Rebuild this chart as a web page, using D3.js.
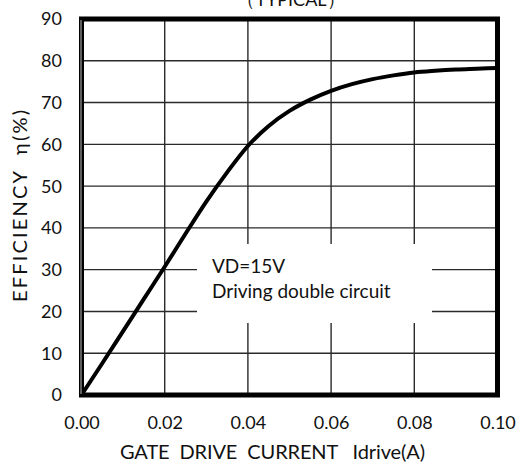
<!DOCTYPE html>
<html><head><meta charset="utf-8">
<script src="https://cdn.jsdelivr.net/npm/d3@7"></script>
<style>body{margin:0;background:#fff}svg{display:block}text{font-family:Lato,"Open Sans",sans-serif;fill:#111}</style>
</head><body><svg id="c" width="516" height="464"></svg>
<script>
const currentA = [0, 0.005, 0.01, 0.015, 0.02, 0.025, 0.03, 0.035, 0.04, 0.045, 0.05, 0.055, 0.06, 0.065, 0.07, 0.075, 0.08, 0.085, 0.09, 0.095, 0.10];
const efficiency = [0, 7.6, 15.3, 23.0, 30.7, 38.6, 46.3, 53.3, 59.6, 64.4, 68.0, 70.7, 72.8, 74.4, 75.6, 76.5, 77.2, 77.6, 77.9, 78.1, 78.3];
const xTicks = [0, 0.02, 0.04, 0.06, 0.08, 0.10];
const yTicks = [0, 10, 20, 30, 40, 50, 60, 70, 80, 90];
const notes = ["VD=15V", "Driving double circuit"];

const svg = d3.select("#c");
const L = 81.5, R = 497.5, T = 19, B = 395;
const x = d3.scaleLinear().domain([0, 0.10]).range([L, R]);
const y = d3.scaleLinear().domain([0, 90]).range([B, T]);

// grid
const g = svg.append("g");
g.selectAll("line.v").data(xTicks.slice(1, -1)).join("line")
  .attr("x1", d => x(d)).attr("x2", d => x(d)).attr("y1", T).attr("y2", B)
  .attr("stroke", "#2a2a2a").attr("stroke-width", 1.4);
g.selectAll("line.h").data(yTicks.slice(1, -1)).join("line")
  .attr("x1", L).attr("x2", R).attr("y1", d => y(d)).attr("y2", d => y(d))
  .attr("stroke", "#2a2a2a").attr("stroke-width", 1.4);

// text box (white)
svg.append("rect").attr("x", 197).attr("y", 244).attr("width", 235).attr("height", 79).attr("fill", "#fff");
svg.selectAll("text.note").data(notes).join("text")
  .attr("x", 212).attr("y", (d, i) => 273 + i * 25)
  .attr("font-size", 19).text(d => d);

// curve
const line = d3.line().x((d, i) => x(currentA[i])).y(d => y(d)).curve(d3.curveMonotoneX);
svg.append("path").datum(efficiency).attr("d", line)
  .attr("fill", "none").attr("stroke", "#000").attr("stroke-width", 4).attr("stroke-linejoin", "round");

// frame
svg.append("rect").attr("x", L).attr("y", T).attr("width", R - L).attr("height", B - T)
  .attr("fill", "none").attr("stroke", "#000").attr("stroke-width", 5);
svg.append("line").attr("x1", L - 0.5).attr("x2", L - 0.5).attr("y1", T + 1).attr("y2", B - 1)
  .attr("stroke", "#bbb").attr("stroke-width", 1);

// axes labels
const xAxis = d3.axisBottom(x).tickValues(xTicks).tickFormat(d3.format(".2f")).tickSize(0).tickPadding(0);
const ax = svg.append("g").attr("transform", `translate(0,${B + 21})`).call(xAxis);
ax.select(".domain").remove();
ax.selectAll("text").attr("font-size", 18).attr("fill", "#111").attr("font-family", "Lato");
const yAxis = d3.axisLeft(y).tickValues(yTicks).tickSize(0).tickPadding(0);
const ay = svg.append("g").attr("transform", `translate(62,0)`).call(yAxis);
ay.select(".domain").remove();
ay.selectAll("text").attr("font-size", 18).attr("fill", "#111").attr("font-family", "Lato").attr("dy", "0.33em");

svg.append("text").attr("x", 120).attr("y", 459).attr("font-size", 20)
  .attr("textLength", 305).attr("lengthAdjust", "spacing")
  .style("white-space", "pre").text("GATE  DRIVE  CURRENT   Idrive(A)");
svg.append("text").attr("transform", "translate(27,302) rotate(-90)").attr("font-size", 20)
  .attr("textLength", 192).attr("lengthAdjust", "spacing")
  .style("white-space", "pre").text("EFFICIENCY  η(%)");
svg.append("text").attr("x", 291).attr("y", 6).attr("text-anchor", "middle").attr("font-size", 18)
  .text("（TYPICAL）");
</script></body></html>
